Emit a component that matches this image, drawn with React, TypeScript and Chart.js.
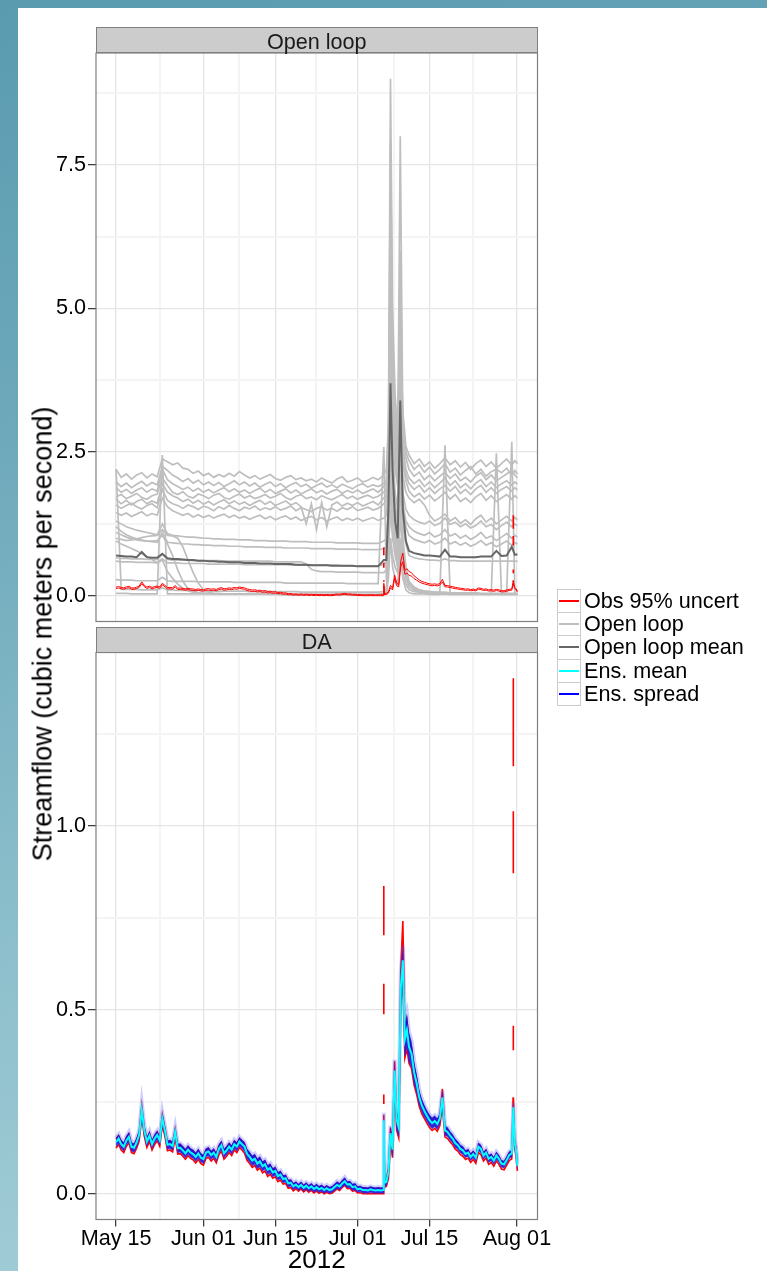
import React, { useEffect, useRef } from 'react';
import { Chart, registerables } from 'chart.js';

Chart.register(...registerables);

const FONT = '"Liberation Sans", Arial, Helvetica, sans-serif';

// ---------------- axis / text content ----------------
const xTickDays = [0, 17, 31, 47, 61, 78]; // days after 2012-05-15 00:00
const xTickLabels = ['May 15', 'Jun 01', 'Jun 15', 'Jul 01', 'Jul 15', 'Aug 01'];
const xAxisTitle = '2012';
const olYTicks = [0, 2.5, 5, 7.5];
const olYTickLabels = ['0.0', '2.5', '5.0', '7.5'];
const daYTicks = [0, 0.5, 1.0];
const daYTickLabels = ['0.0', '0.5', '1.0'];
const panelTitles = ['Open loop', 'DA'];
const yAxisTitle = 'Streamflow (cubic meters per second)';
const legendLabels = ['Obs 95% uncert', 'Open loop', 'Open loop mean', 'Ens. mean', 'Ens. spread'];
const legendColors = ['#FF0000', '#BEBEBE', '#666666', '#00FFFF', '#0000FF'];

// ---------------- sampling times (days after May 15) ----------------
function seq(a: number, b: number, step: number): number[] {
  const out: number[] = [];
  for (let v = a; v <= b + 1e-9; v += step) out.push(Math.round(v * 100) / 100);
  return out;
}
const olTimes = [0, ...seq(1, 51, 1), 52.1, 52.6, 53.0, 53.4, 53.8, 54.3, 54.8, 55.3, 55.8, 56.4, ...seq(57, 77, 1), 77.6, 78.1];
const daTimes = [0, ...seq(0.5, 51.5, 0.5), 52.0, 52.1, 52.25, 52.6, 53.0, 53.4, 53.8, 54.2, 54.6, 55.0, 55.4, 55.8, 56.2, 56.6, ...seq(57, 77, 0.5), 77.3, 77.55, 77.8, 78.1];

// ---------------- open loop ensemble members ----------------
const olRunA = [
  2.20,2.06,2.12,2.03,2.10,2.14,2.05,2.12,2.07,2.38,
  2.33,2.28,2.31,2.22,2.20,2.13,2.17,2.09,2.13,2.06,
  2.11,2.07,2.13,2.08,2.16,2.10,2.05,2.09,2.03,2.07,
  2.11,2.04,2.01,2.06,2.09,2.02,2.05,2.00,2.03,1.98,
  2.05,2.00,1.96,2.03,2.07,1.98,2.01,2.05,1.98,2.01,
  2.06,2.02,
  2.10,2.20,3.00,9.00,5.00,3.50,2.80,4.50,3.20,2.60,
  2.45,2.30,2.38,2.25,2.33,2.22,2.30,2.40,2.28,2.35,
  2.24,2.32,2.20,2.30,2.36,2.25,2.33,2.22,2.30,2.38,
  2.27,2.35,2.30];
const olRunB = [
  1.98,1.90,1.96,1.88,1.94,1.99,1.91,1.97,1.93,2.25,
  2.18,2.10,2.05,1.99,2.04,1.96,2.01,1.93,1.98,1.92,
  1.97,1.90,1.95,2.00,1.93,1.98,1.91,1.96,1.89,1.94,
  1.98,1.90,1.95,1.88,1.93,1.97,1.90,1.94,1.87,1.92,
  1.96,1.89,1.93,1.88,1.94,1.90,1.86,1.92,1.95,1.89,
  1.93,1.90,
  1.95,2.00,2.80,7.90,4.50,3.20,2.60,8.00,3.00,2.50,
  2.35,2.20,2.28,2.15,2.24,2.12,2.20,2.30,2.15,2.22,
  2.10,2.18,2.25,2.12,2.20,2.08,2.16,2.20,2.14,2.22,
  2.10,2.18,2.12];
const olRunC = [
  1.88,1.80,1.85,1.78,1.84,1.88,1.80,1.86,1.82,2.20,
  2.02,1.95,1.90,1.85,1.89,1.82,1.87,1.80,1.85,1.79,
  1.84,1.88,1.81,1.86,1.80,1.84,1.78,1.83,1.87,1.80,
  1.85,1.78,1.82,1.86,1.79,1.84,1.77,1.82,1.86,1.79,
  1.83,1.77,1.82,1.85,1.78,1.83,1.79,1.84,1.78,1.82,
  1.86,1.80,
  1.90,1.95,2.60,6.50,4.00,3.00,2.50,6.00,2.80,2.40,
  2.20,2.08,2.15,2.02,2.10,2.00,2.08,2.15,2.04,2.12,
  2.00,2.06,1.98,2.08,2.14,2.02,2.10,2.00,2.06,2.12,
  2.18,2.10,2.05];
const olRunD = [
  1.72,1.76,1.69,1.73,1.78,1.71,1.68,1.74,1.77,2.05,
  1.92,1.80,1.76,1.81,1.73,1.70,1.77,1.74,1.69,1.75,
  1.78,1.71,1.68,1.73,1.77,1.70,1.74,1.69,1.72,1.76,
  1.70,1.73,1.78,1.71,1.67,1.73,1.76,1.69,1.72,1.67,
  1.74,1.70,1.67,1.72,1.76,1.69,1.73,1.68,1.72,1.75,
  1.70,1.73,
  1.80,1.85,2.50,5.50,3.60,2.80,2.30,5.50,2.60,2.20,
  2.05,1.95,2.02,1.90,1.98,1.88,1.96,2.05,1.92,2.00,
  1.88,1.95,1.86,1.96,2.02,1.90,1.98,1.88,1.95,2.00,
  1.92,1.98,1.94];
const olRunE = [
  1.68,1.60,1.66,1.58,1.64,1.68,1.60,1.65,1.61,1.95,
  1.80,1.74,1.70,1.64,1.68,1.61,1.66,1.59,1.64,1.58,
  1.63,1.67,1.60,1.65,1.59,1.63,1.57,1.62,1.66,1.59,
  1.64,1.57,1.61,1.65,1.58,1.62,1.55,1.25,1.60,1.15,
  1.62,1.20,1.58,1.63,1.56,1.61,1.57,1.62,1.56,1.60,
  1.64,1.58,
  1.70,1.75,2.40,5.00,3.30,2.60,2.20,5.00,2.50,2.10,
  1.95,1.85,1.92,1.80,1.88,1.78,1.86,1.92,1.82,1.90,
  1.78,1.85,1.76,1.86,1.92,1.80,1.88,1.78,1.85,1.90,
  1.82,1.88,1.84];
const olRunF = [
  1.58,1.52,1.57,1.61,1.55,1.51,1.57,1.60,1.53,1.85,
  1.66,1.60,1.57,1.52,1.58,1.55,1.50,1.56,1.53,1.48,
  1.55,1.51,1.57,1.52,1.48,1.54,1.51,1.56,1.49,1.53,
  1.50,1.55,1.49,1.52,1.56,1.48,1.53,1.50,1.46,1.52,
  1.55,1.49,1.52,1.47,1.53,1.50,1.55,1.48,1.51,1.54,
  1.49,1.52,
  1.60,1.65,2.20,4.50,3.00,2.40,2.00,4.50,2.30,2.00,
  1.82,1.72,1.78,1.68,1.75,1.65,1.72,1.80,1.68,1.76,
  1.64,1.70,1.62,1.72,1.78,1.66,1.74,1.64,1.70,1.76,
  1.68,1.74,1.70];
const olRunG = [
  1.45,1.40,1.44,1.38,1.42,1.46,1.39,1.43,1.40,1.70,
  1.55,1.48,1.44,1.40,1.43,1.37,1.41,1.36,1.40,1.35,
  1.39,1.42,1.36,1.40,1.35,1.38,1.33,1.37,1.40,1.34,
  1.38,1.32,1.36,1.39,1.33,1.37,1.31,1.35,1.38,1.32,
  1.36,1.30,1.34,1.37,1.31,1.35,1.31,1.35,1.30,1.33,
  1.36,1.31,
  1.35,1.40,2.00,4.00,2.80,2.20,1.90,4.00,2.10,1.80,
  1.70,1.62,1.68,1.58,1.40,1.30,1.35,1.42,1.30,1.36,
  1.26,1.32,1.24,1.34,1.40,1.28,1.35,1.25,1.32,1.38,
  1.30,1.36,1.32];
const olRunH = [
  1.30,1.25,1.20,1.17,1.14,1.12,1.10,1.08,1.06,1.25,
  1.08,1.05,1.04,1.03,1.02,1.02,1.01,1.00,1.00,0.99,
  0.99,0.98,0.98,0.98,0.97,0.97,0.97,0.96,0.96,0.96,
  0.95,0.95,0.95,0.95,0.94,0.94,0.94,0.94,0.93,0.93,
  0.93,0.93,0.93,0.92,0.92,0.92,0.92,0.92,0.91,0.91,
  0.91,0.91,
  0.95,1.00,1.60,3.50,2.50,1.80,1.50,3.50,1.80,1.50,
  1.40,1.32,1.28,1.25,1.30,1.22,1.26,1.35,1.24,1.28,
  1.20,1.25,1.18,1.22,1.30,1.20,1.24,1.15,1.22,1.28,
  1.20,1.25,1.22];
const olRunI = [
  1.20,1.12,1.06,1.02,0.99,0.97,0.95,0.94,0.93,1.10,
  0.93,0.92,0.91,0.90,0.90,0.89,0.89,0.88,0.88,0.87,
  0.87,0.87,0.86,0.86,0.86,0.85,0.85,0.85,0.85,0.84,
  0.84,0.84,0.84,0.83,0.83,0.83,0.83,0.83,0.82,0.82,
  0.82,0.82,0.82,0.81,0.81,0.81,0.81,0.81,0.80,0.80,
  0.80,0.80,
  0.82,0.85,1.40,3.00,2.20,1.60,1.30,3.00,1.60,1.30,
  1.20,1.12,1.08,1.05,1.10,1.02,1.06,1.15,1.04,1.08,
  1.00,1.05,0.98,1.03,1.10,1.00,1.04,0.96,1.02,1.08,
  1.00,1.05,1.02];
const olRunJ = [
  1.00,0.98,0.96,0.97,0.99,1.01,1.03,1.04,1.05,1.15,
  1.05,1.04,1.00,0.85,0.62,0.40,0.22,0.10,0.06,0.04,
  0.04,0.03,0.03,0.03,0.03,0.03,0.03,0.03,0.03,0.03,
  0.03,0.03,0.02,0.02,0.02,0.02,0.02,0.02,0.02,0.02,
  0.02,0.02,0.02,0.02,0.02,0.02,0.02,0.02,0.02,0.02,
  0.02,0.02,
  0.03,0.05,1.00,2.50,1.80,1.20,0.80,2.50,1.00,0.50,
  0.25,0.15,0.10,0.08,0.07,0.06,0.05,0.05,0.05,0.04,
  0.04,0.04,0.04,0.04,0.03,0.03,0.03,0.03,0.03,0.03,
  2.68,0.03,0.03];
const olRunK = [
  0.95,0.90,0.86,0.82,0.78,0.73,0.68,0.63,0.57,0.62,
  0.42,0.30,0.20,0.13,0.08,0.06,0.05,0.04,0.04,0.03,
  0.03,0.03,0.03,0.03,0.03,0.03,0.03,0.03,0.03,0.03,
  0.03,0.03,0.02,0.02,0.02,0.02,0.02,0.02,0.02,0.02,
  0.02,0.02,0.02,0.02,0.02,0.02,0.02,0.02,0.02,0.02,
  0.02,0.02,
  0.03,0.04,0.80,2.50,1.50,1.00,0.60,2.00,0.80,0.40,
  0.20,0.12,0.08,0.06,0.05,0.05,0.04,2.62,0.04,0.04,
  0.03,0.03,0.03,0.03,0.03,0.03,0.03,0.03,0.03,0.03,
  0.03,0.03,0.03];
const olRunL = [
  1.10,1.06,1.02,0.99,0.97,0.96,0.95,0.95,0.96,1.05,
  0.90,0.70,0.45,0.25,0.12,0.07,0.05,0.04,0.04,0.03,
  0.03,0.03,0.03,0.03,0.03,0.03,0.03,0.03,0.03,0.03,
  0.03,0.03,0.02,0.02,0.02,0.02,0.02,0.02,0.02,0.02,
  0.02,0.02,0.02,0.02,0.02,0.02,0.02,0.02,0.02,0.02,
  0.02,0.02,
  0.03,0.04,0.60,2.00,1.20,0.80,0.50,1.50,0.60,0.30,
  0.15,0.10,0.07,0.05,0.05,0.04,0.04,0.04,0.04,0.03,
  0.03,0.03,0.03,0.03,0.03,0.02,0.02,0.02,0.02,0.02,
  0.02,0.02,0.02];
const olRunM = [
  0.66,0.65,0.65,0.64,0.64,0.64,0.63,0.63,0.63,0.72,
  0.63,0.62,0.62,0.62,0.62,0.61,0.61,0.61,0.61,0.61,
  0.61,0.60,0.60,0.60,0.60,0.60,0.60,0.60,0.60,0.60,
  0.60,0.59,0.59,0.59,0.59,0.59,0.59,0.55,0.46,0.43,
  0.42,0.42,0.42,0.41,0.41,0.41,0.41,0.41,0.40,0.40,
  0.40,0.40,
  0.40,0.45,1.20,3.00,2.00,1.50,1.20,3.00,1.50,1.20,
  1.05,0.98,0.95,0.92,0.96,0.90,0.93,1.00,0.90,0.94,
  0.88,0.92,0.86,0.90,0.96,0.88,0.92,0.85,0.90,0.95,
  0.88,0.92,0.90];
const olRunN = [
  0.60,0.59,0.59,0.59,0.58,0.58,0.58,0.58,0.57,0.64,
  0.57,0.57,0.57,0.56,0.56,0.56,0.56,0.56,0.55,0.55,
  0.55,0.55,0.55,0.55,0.55,0.54,0.54,0.54,0.54,0.54,
  0.54,0.54,0.54,0.54,0.53,0.53,0.53,0.53,0.53,0.53,
  0.53,0.53,0.53,0.53,0.52,0.52,0.52,0.52,0.52,0.52,
  0.52,0.52,
  0.55,0.60,1.00,2.50,1.60,1.20,1.00,2.50,1.20,0.90,
  0.70,0.66,0.64,0.63,0.62,0.62,0.61,0.64,0.61,0.61,
  0.60,0.60,0.60,0.60,0.60,0.60,0.60,0.60,0.60,0.60,
  0.60,0.60,0.60];
const olRunO = [
  0.28,0.27,0.27,0.27,0.26,0.26,0.26,0.26,0.26,0.32,
  0.26,0.25,0.25,0.25,0.25,0.25,0.24,0.24,0.24,0.24,
  0.24,0.24,0.24,0.23,0.23,0.23,0.23,0.23,0.23,0.23,
  0.23,0.23,0.23,0.22,0.22,0.22,0.22,0.22,0.22,0.22,
  0.22,0.22,0.22,0.22,0.22,0.21,0.21,0.21,0.21,0.21,
  0.21,0.21,
  2.59,0.25,0.80,1.50,1.00,0.70,0.50,1.50,0.60,0.40,
  0.20,0.14,0.10,0.08,0.07,0.06,0.06,0.06,0.05,0.05,
  0.05,0.05,0.05,0.05,0.04,0.04,0.04,0.04,0.04,0.04,
  0.04,0.04,0.04];
const olRunP = [
  2.20,0.11,0.11,0.11,0.11,0.10,0.10,0.10,0.10,0.14,
  0.10,0.10,0.09,0.09,0.09,0.09,0.09,0.09,0.08,0.08,
  0.08,0.08,0.08,0.08,0.08,0.08,0.07,0.07,0.07,0.07,
  0.07,0.07,0.07,0.07,0.07,0.07,0.06,0.06,0.06,0.06,
  0.06,0.06,0.06,0.06,0.06,0.06,0.06,0.06,0.06,0.06,
  0.06,0.06,
  0.07,0.10,0.50,1.00,0.70,0.50,0.40,1.00,0.40,0.20,
  0.10,0.07,0.06,0.05,0.05,0.04,0.04,0.05,0.04,0.04,
  0.04,0.04,0.03,0.03,0.03,0.03,0.03,0.03,0.03,0.03,
  0.03,0.03,0.03];
const olRunQ = [
  0.04,0.04,0.04,0.03,0.03,0.03,0.03,0.03,0.03,2.45,
  0.03,0.03,0.03,0.03,0.03,0.03,0.03,0.03,0.03,0.03,
  0.03,0.03,0.03,0.03,0.03,0.03,0.03,0.03,0.03,0.03,
  0.02,0.02,0.02,0.02,0.02,0.02,0.02,0.02,0.02,0.02,
  0.02,0.02,0.02,0.02,0.02,0.02,0.02,0.02,0.02,0.02,
  0.02,0.02,
  0.03,0.04,0.30,1.00,0.50,0.30,0.20,0.80,0.30,0.10,
  0.05,0.03,0.03,0.03,0.02,0.02,0.02,0.03,0.02,0.02,
  0.02,0.02,0.02,0.02,0.02,0.02,0.02,2.48,0.02,0.02,
  0.02,0.02,0.02];
const olRuns = [olRunA, olRunB, olRunC, olRunD, olRunE, olRunF, olRunG, olRunH, olRunI,
  olRunJ, olRunK, olRunL, olRunM, olRunN, olRunO, olRunP, olRunQ];

const olMean = [
  0.70,0.69,0.68,0.68,0.67,0.76,0.67,0.66,0.66,0.73,
  0.65,0.64,0.64,0.63,0.62,0.62,0.61,0.61,0.60,0.60,
  0.59,0.59,0.58,0.58,0.58,0.57,0.57,0.57,0.56,0.56,
  0.56,0.55,0.55,0.55,0.55,0.54,0.54,0.54,0.53,0.53,
  0.53,0.53,0.52,0.52,0.52,0.52,0.52,0.51,0.51,0.51,
  0.51,0.51,
  0.62,0.62,1.50,3.70,2.20,1.30,1.00,3.40,1.50,0.95,
  0.78,0.74,0.72,0.70,0.70,0.69,0.68,0.80,0.68,0.68,
  0.67,0.67,0.67,0.67,0.68,0.68,0.68,0.78,0.69,0.70,
  0.85,0.71,0.72];

// ---------------- DA ensemble ----------------
const daMean = [
  0.140,0.150,0.135,0.128,0.145,0.155,0.128,0.125,0.140,0.160,
  0.228,0.172,0.142,0.158,0.135,0.150,0.160,0.145,0.205,0.172,
  0.133,0.135,0.130,0.168,0.124,0.125,0.118,0.110,0.120,0.112,
  0.108,0.100,0.110,0.098,0.094,0.112,0.115,0.105,0.112,0.100,
  0.122,0.132,0.110,0.118,0.128,0.120,0.135,0.128,0.142,0.135,
  0.128,0.108,0.100,0.090,0.095,0.082,0.088,0.075,0.080,0.065,
  0.070,0.058,0.062,0.048,0.052,0.040,0.042,0.028,0.030,0.020,
  0.025,0.018,0.024,0.016,0.022,0.015,0.020,0.013,0.018,0.012,
  0.016,0.010,0.015,0.010,0.012,0.018,0.024,0.020,0.028,0.034,
  0.025,0.026,0.018,0.020,0.012,0.014,0.010,0.010,0.009,0.012,
  0.010,0.009,0.010,0.009,
  0.010,0.200,0.030,0.032,0.060,0.165,0.120,0.335,0.200,0.180,0.560,0.635,0.420,0.445,
  0.400,0.380,0.330,0.300,0.262,0.240,0.225,0.212,0.200,0.192,
  0.198,0.190,0.205,0.262,0.172,0.168,0.158,0.150,0.138,0.132,
  0.122,0.118,0.108,0.112,0.100,0.108,0.098,0.128,0.122,0.104,
  0.112,0.095,0.100,0.090,0.104,0.095,0.082,0.080,0.092,0.105,
  0.110,0.235,0.140,0.120,0.075];
const daSpread = [
  0.012,0.012,0.012,0.012,0.012,0.013,0.012,0.012,0.012,0.013,
  0.018,0.013,0.012,0.012,0.012,0.012,0.012,0.012,0.016,0.013,
  0.012,0.012,0.012,0.013,0.012,0.012,0.012,0.012,0.012,0.012,
  0.012,0.012,0.012,0.012,0.012,0.012,0.012,0.012,0.012,0.012,
  0.012,0.012,0.012,0.012,0.012,0.012,0.012,0.012,0.012,0.012,
  0.013,0.014,0.014,0.014,0.014,0.014,0.014,0.013,0.013,0.013,
  0.013,0.012,0.012,0.011,0.011,0.010,0.010,0.010,0.009,0.009,
  0.009,0.009,0.009,0.009,0.009,0.009,0.009,0.009,0.009,0.009,
  0.009,0.009,0.009,0.009,0.009,0.009,0.010,0.009,0.010,0.011,
  0.009,0.009,0.009,0.009,0.008,0.008,0.008,0.008,0.008,0.008,
  0.008,0.008,0.008,0.008,
  0.008,0.020,0.008,0.010,0.015,0.020,0.020,0.030,0.025,0.025,0.045,0.040,0.045,0.045,
  0.040,0.035,0.030,0.025,0.020,0.018,0.016,0.015,0.015,0.015,
  0.015,0.015,0.015,0.018,0.013,0.013,0.012,0.012,0.012,0.011,
  0.011,0.011,0.010,0.010,0.010,0.010,0.010,0.011,0.011,0.010,
  0.010,0.010,0.010,0.010,0.010,0.010,0.010,0.010,0.010,0.010,
  0.010,0.012,0.010,0.010,0.008];

// ---------------- observation 95% uncertainty ----------------
const obsLow = [
  0.124,0.134,0.119,0.112,0.129,0.139,0.112,0.109,0.124,0.144,
  0.208,0.156,0.126,0.142,0.119,0.134,0.144,0.129,0.187,0.156,
  0.117,0.119,0.114,0.152,0.108,0.109,0.102,0.094,0.104,0.096,
  0.092,0.084,0.094,0.082,0.078,0.096,0.099,0.089,0.096,0.084,
  0.106,0.116,0.094,0.102,0.112,0.104,0.119,0.112,0.126,0.119,
  0.110,0.090,0.082,0.072,0.077,0.064,0.070,0.057,0.062,0.047,
  0.053,0.042,0.046,0.033,0.037,0.026,0.028,0.015,0.017,0.008,
  0.014,0.007,0.013,0.005,0.011,0.004,0.009,0.002,0.007,0.001,
  0.005,0.000,0.004,0.000,0.001,0.007,0.013,0.009,0.017,0.023,
  0.014,0.015,0.007,0.009,0.002,0.003,0.000,0.000,0.000,0.001,
  0.000,0.000,0.000,0.000,
  0.000,0.175,0.018,0.020,0.042,0.140,0.098,0.300,0.172,0.152,0.508,0.590,0.370,0.395,
  0.355,0.340,0.295,0.270,0.237,0.217,0.204,0.192,0.180,0.172,
  0.178,0.170,0.185,0.239,0.154,0.150,0.141,0.133,0.121,0.116,
  0.106,0.102,0.093,0.097,0.085,0.093,0.083,0.112,0.106,0.089,
  0.097,0.080,0.085,0.075,0.089,0.080,0.067,0.065,0.077,0.090,
  0.095,0.215,0.125,0.105,0.062];
const obsHigh = [
  0.148,0.158,0.143,0.136,0.153,0.163,0.136,0.133,0.148,0.168,
  0.240,0.180,0.150,0.166,0.143,0.158,0.168,0.153,0.215,0.180,
  0.141,0.143,0.138,0.176,0.132,0.133,0.126,0.118,0.128,0.120,
  0.116,0.108,0.118,0.106,0.102,0.120,0.123,0.113,0.120,0.108,
  0.130,0.140,0.118,0.126,0.136,0.128,0.143,0.136,0.150,0.143,
  0.136,0.116,0.108,0.098,0.103,0.090,0.096,0.083,0.088,0.073,
  0.077,0.065,0.069,0.055,0.059,0.047,0.049,0.035,0.037,0.026,
  0.030,0.023,0.029,0.021,0.027,0.020,0.025,0.018,0.023,0.017,
  0.021,0.015,0.020,0.015,0.017,0.023,0.029,0.025,0.033,0.039,
  0.030,0.031,0.023,0.025,0.017,0.019,0.015,0.015,0.014,0.017,
  0.015,0.014,0.015,0.014,
  0.015,0.215,0.036,0.040,0.070,0.180,0.130,0.360,0.215,0.195,0.606,0.742,0.440,0.470,
  0.420,0.398,0.345,0.312,0.272,0.249,0.233,0.219,0.207,0.199,
  0.205,0.197,0.212,0.285,0.179,0.175,0.164,0.156,0.144,0.138,
  0.128,0.124,0.114,0.118,0.106,0.114,0.104,0.134,0.128,0.110,
  0.118,0.101,0.106,0.096,0.110,0.101,0.088,0.086,0.098,0.111,
  0.116,0.262,0.146,0.126,0.080];
// short broken pieces of the obs band during the two storm events
const obsSpikeDays = [52.1, 52.1, 52.1, 77.3, 77.3, 77.3, 77.3];
const obsSpikeLow = [0.244, 0.488, 0.703, 0.235, 0.390, 0.872, 1.163];
const obsSpikeHigh = [0.270, 0.571, 0.837, 0.262, 0.457, 1.040, 1.402];

// ---------------- helpers ----------------
function withMinor(major: number[], lo: number, hi: number): number[] {
  const out = [...major];
  for (let i = 0; i < major.length - 1; i++) out.push((major[i] + major[i + 1]) / 2);
  out.push(major[0] - (major[1] - major[0]) / 2);
  const n = major.length;
  out.push(major[n - 1] + (major[n - 1] - major[n - 2]) / 2);
  return out.filter((v) => v >= lo && v <= hi).sort((a, b) => a - b);
}
function padRange(vals: number[]): [number, number] {
  const f = vals.filter((v) => v !== null && v !== undefined && !isNaN(v));
  const mn = Math.min(...f);
  const mx = Math.max(...f);
  const p = (mx - mn) * 0.05;
  return [mn - p, mx + p];
}
const isIn = (arr: number[], v: number) => arr.some((a) => Math.abs(a - v) < 1e-6);
const pts = (xs: number[], ys: number[]) => xs.map((x, i) => ({ x, y: ys[i] }));
function spikePts() {
  const out: any[] = [];
  obsSpikeDays.forEach((d, i) => {
    out.push({ x: d, y: obsSpikeLow[i] }, { x: d, y: obsSpikeHigh[i] }, { x: d, y: null });
  });
  return out;
}
const ensLowVals = daMean.map((m, i) => m - daSpread[i]);
const ensHighVals = daMean.map((m, i) => m + daSpread[i]);

const xRange = padRange([...olTimes, ...daTimes]);
const olRange = padRange([...olRuns.flat(), ...olMean, ...obsLow, ...obsHigh, ...obsSpikeHigh]);
const daRange = padRange([...ensLowVals, ...ensHighVals, ...daMean, ...obsLow, ...obsHigh, ...obsSpikeHigh]);

const GRID_MAJOR = '#E5E5E5';
const GRID_MINOR = '#F4F4F4';
const TICK_COLOR = '#333333';

function xScale(showLabels: boolean) {
  const all = withMinor(xTickDays, xRange[0], xRange[1]);
  return {
    type: 'linear',
    min: xRange[0],
    max: xRange[1],
    bounds: 'data',
    afterBuildTicks: (s: any) => { s.ticks = all.map((v) => ({ value: v })); },
    afterFit: (s: any) => { s.height = showLabels ? 51.5 : 0; },
    ticks: {
      display: showLabels,
      autoSkip: false,
      maxRotation: 0,
      minRotation: 0,
      padding: 0,
      color: '#000',
      font: { family: FONT, size: 21.6 },
      callback: (v: number) => {
        const i = xTickDays.findIndex((d) => Math.abs(d - v) < 1e-6);
        return i >= 0 ? xTickLabels[i] : '';
      },
    },
    grid: {
      drawTicks: showLabels,
      tickLength: 7,
      color: (c: any) => (c.tick && isIn(xTickDays, c.tick.value) ? GRID_MAJOR : GRID_MINOR),
      lineWidth: (c: any) => (c.tick && isIn(xTickDays, c.tick.value) ? 1.3 : 2),
      tickColor: (c: any) => (c.tick && isIn(xTickDays, c.tick.value) ? TICK_COLOR : 'rgba(0,0,0,0)'),
      tickWidth: 1.2,
    },
    border: { display: false },
    title: {
      display: showLabels,
      text: xAxisTitle,
      color: '#000',
      font: { family: FONT, size: 26, lineHeight: 0.82 },
      padding: 0,
    },
  };
}

function yScale(range: [number, number], majors: number[], labels: string[]) {
  const all = withMinor(majors, range[0], range[1]);
  return {
    type: 'linear',
    position: 'left',
    min: range[0],
    max: range[1],
    bounds: 'data',
    afterBuildTicks: (s: any) => { s.ticks = all.map((v) => ({ value: v })); },
    afterFit: (s: any) => { s.width = 96; },
    ticks: {
      autoSkip: false,
      padding: 2,
      color: '#000',
      font: { family: FONT, size: 21.6 },
      callback: (v: number) => {
        const i = majors.findIndex((d) => Math.abs(d - v) < 1e-6);
        return i >= 0 ? labels[i] : '';
      },
    },
    grid: {
      tickLength: 8,
      color: (c: any) => (c.tick && isIn(majors, c.tick.value) ? GRID_MAJOR : GRID_MINOR),
      lineWidth: (c: any) => (c.tick && isIn(majors, c.tick.value) ? 1.3 : 2),
      tickColor: (c: any) => (c.tick && isIn(majors, c.tick.value) ? TICK_COLOR : 'rgba(0,0,0,0)'),
      tickWidth: 1.2,
    },
    border: { display: false },
  };
}

const panelBorder = {
  id: 'panelBorder',
  afterDatasetsDraw(chart: any) {
    const { ctx, chartArea: a } = chart;
    ctx.save();
    ctx.strokeStyle = '#7F7F7F';
    ctx.lineWidth = 1.2;
    ctx.strokeRect(a.left, a.top, a.right - a.left, a.bottom - a.top);
    ctx.restore();
  },
};

const lineDs = (data: any[], color: string, width: number, order: number, extra: any = {}) => ({
  type: 'line',
  data,
  borderColor: color,
  borderWidth: width,
  pointRadius: 0,
  pointHoverRadius: 0,
  tension: 0,
  fill: false,
  spanGaps: false,
  order,
  ...extra,
});

function baseOptions(scales: any, padding: any) {
  return {
    responsive: false,
    maintainAspectRatio: false,
    animation: false,
    devicePixelRatio: 1,
    events: [],
    layout: { padding },
    plugins: { legend: { display: false }, tooltip: { enabled: false }, title: { display: false } },
    scales,
  };
}

function topConfig(): any {
  const datasets: any[] = [
    ...olRuns.map((r) => lineDs(pts(olTimes, r), '#BEBEBE', 1.7, 50)),
    lineDs(pts(olTimes, olMean), '#666666', 2, 40),
    lineDs(pts(daTimes, obsLow), '#FF0000', 1.0, 30),
    lineDs(pts(daTimes, obsHigh), '#FF0000', 1.0, 30),
    lineDs(spikePts(), '#FF0000', 1.6, 30),
  ];
  return {
    type: 'line',
    data: { datasets },
    options: baseOptions(
      { x: xScale(false), y: yScale(olRange, olYTicks, olYTickLabels) },
      { top: 20, bottom: 20.5, left: 0, right: 42.5 }
    ),
    plugins: [panelBorder],
  };
}

function bottomConfig(): any {
  const datasets: any[] = [
    lineDs(pts(daTimes, obsLow), '#FF0000', 1.6, 30),
    lineDs(pts(daTimes, obsHigh), '#FF0000', 1.6, 30),
    lineDs(spikePts(), '#FF0000', 1.6, 30),
    lineDs(pts(daTimes, ensHighVals), 'rgba(90,90,255,0.30)', 4, 20),
    lineDs(pts(daTimes, ensLowVals), 'rgba(60,40,220,0.6)', 1, 19, {
      fill: '-1',
      backgroundColor: 'rgba(28,12,215,0.9)',
    }),
    lineDs(pts(daTimes, daMean), '#00FFFF', 2, 10),
  ];
  return {
    type: 'line',
    data: { datasets },
    options: baseOptions(
      { x: xScale(true), y: yScale(daRange, daYTicks, daYTickLabels) },
      { top: 20.5, bottom: 0, left: 0, right: 42.5 }
    ),
    plugins: [panelBorder],
  };
}

const stripStyle = (top: number): React.CSSProperties => ({
  position: 'absolute',
  left: 96,
  top,
  width: 441.5,
  height: 26,
  boxSizing: 'border-box',
  border: '1px solid #7F7F7F',
  background: '#CCCCCC',
});
const stripText: React.CSSProperties = {
  position: 'absolute',
  left: 0,
  right: 0,
  top: 1,
  lineHeight: '26px',
  textAlign: 'center',
  fontFamily: FONT,
  fontSize: 21.6,
  color: '#1A1A1A',
  whiteSpace: 'nowrap',
};

export default function App() {
  const topRef = useRef<HTMLCanvasElement>(null);
  const botRef = useRef<HTMLCanvasElement>(null);

  useEffect(() => {
    document.body.style.margin = '0';
    const c1 = new Chart(topRef.current as HTMLCanvasElement, topConfig());
    const c2 = new Chart(botRef.current as HTMLCanvasElement, bottomConfig());
    return () => {
      c1.destroy();
      c2.destroy();
    };
  }, []);

  const keyTop = 588.5;
  const keyStep = 23.4;

  return (
    <div
      style={{
        position: 'absolute',
        left: 0,
        top: 0,
        width: 767,
        height: 1271,
        overflow: 'hidden',
        background: 'linear-gradient(165deg, #5a9bb0 0%, #6ea9bb 30%, #8bbecb 62%, #aad2db 100%)',
      }}
    >
      <div style={{ position: 'absolute', left: 18, top: 8, right: 0, bottom: 0, background: '#FFFFFF' }} />
      <canvas
        ref={topRef}
        width={580}
        height={609}
        style={{ position: 'absolute', left: 0, top: 33, width: 580, height: 609 }}
      />
      <canvas
        ref={botRef}
        width={580}
        height={639}
        style={{ position: 'absolute', left: 0, top: 632, width: 580, height: 639 }}
      />
      <div style={stripStyle(27)}>
        <div style={stripText}>{panelTitles[0]}</div>
      </div>
      <div style={stripStyle(627)}>
        <div style={stripText}>{panelTitles[1]}</div>
      </div>
      <div
        style={{
          position: 'absolute',
          left: 43,
          top: 634,
          transform: 'translate(-50%, -50%) rotate(-90deg)',
          whiteSpace: 'nowrap',
          fontFamily: FONT,
          fontSize: 27,
          lineHeight: '27px',
          color: '#000',
        }}
      >
        {yAxisTitle}
      </div>
      {legendLabels.map((lab, i) => (
        <React.Fragment key={lab}>
          <div
            style={{
              position: 'absolute',
              left: 556.5,
              top: keyTop + i * keyStep,
              width: 24,
              height: keyStep + 1,
              boxSizing: 'border-box',
              border: '1px solid #CCCCCC',
              background: '#FFFFFF',
            }}
          >
            <div
              style={{
                position: 'absolute',
                left: 1,
                right: 1,
                top: '50%',
                height: 2,
                marginTop: -1,
                background: legendColors[i],
              }}
            />
          </div>
          <div
            style={{
              position: 'absolute',
              left: 584,
              top: keyTop + i * keyStep,
              lineHeight: `${keyStep}px`,
              fontFamily: FONT,
              fontSize: 21.6,
              color: '#000',
              whiteSpace: 'nowrap',
            }}
          >
            {lab}
          </div>
        </React.Fragment>
      ))}
    </div>
  );
}
